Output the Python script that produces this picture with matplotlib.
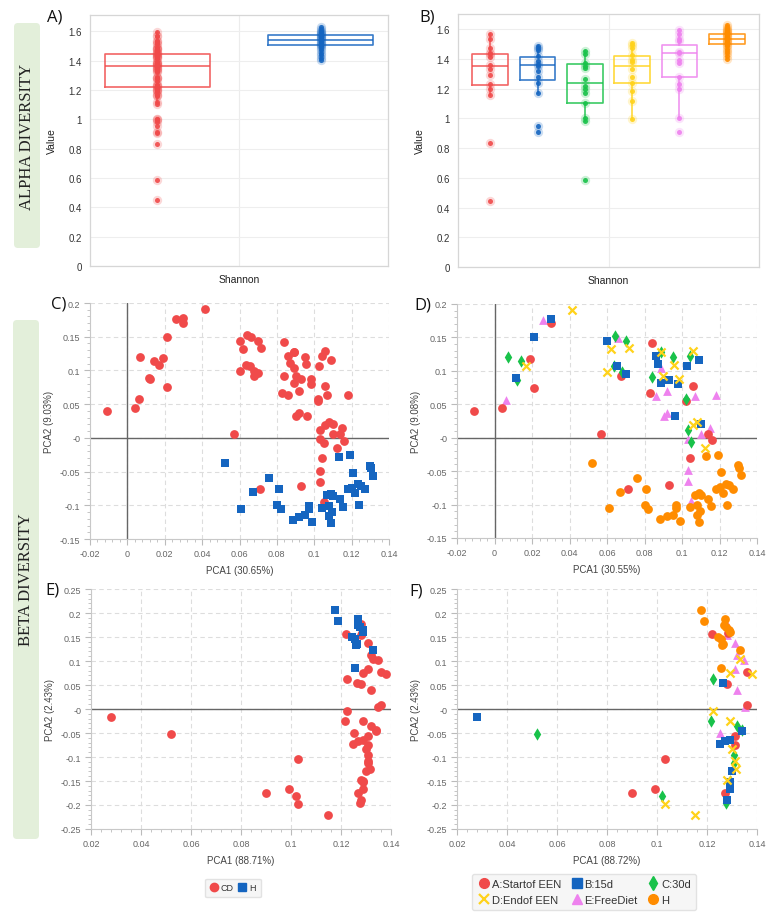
import matplotlib.pyplot as plt
from matplotlib.ticker import AutoMinorLocator
from matplotlib.patches import FancyBboxPatch
from matplotlib.lines import Line2D

# ---------------- data ----------------
group_names = ["A:Startof EEN", "B:15d", "C:30d", "D:Endof EEN", "E:FreeDiet", "H"]
group_colors = ["#F04A4A", "#1565C0", "#19C24A", "#FFD21A", "#EE82EE", "#FF8C00"]
group_markers = ["o", "s", "d", "x", "^", "o"]

# Shannon values per group (panel B)
shannon_a = [1.566, 1.537, 1.476, 1.443, 1.432, 1.416, 1.362, 1.336, 1.29, 1.23, 1.197, 1.157, 0.832, 0.447]
shannon_b = [1.488, 1.476, 1.46, 1.42, 1.387, 1.365, 1.353, 1.32, 1.282, 1.237, 1.168, 0.951, 0.906]
shannon_c = [1.454, 1.432, 1.376, 1.353, 1.342, 1.264, 1.215, 1.2, 1.168, 1.107, 1.0, 0.984, 0.584]
shannon_d = [1.51, 1.492, 1.476, 1.425, 1.39, 1.38, 1.331, 1.282, 1.237, 1.186, 1.119, 0.996]
shannon_e = [1.595, 1.566, 1.532, 1.521, 1.45, 1.438, 1.39, 1.376, 1.282, 1.23, 1.197, 1.002, 0.911]
shannon_h = [1.626, 1.615, 1.605, 1.598, 1.59, 1.582, 1.575, 1.568, 1.56, 1.552, 1.545, 1.538,
             1.53, 1.522, 1.515, 1.505, 1.497, 1.485, 1.47, 1.455, 1.44, 1.42, 1.403]
shannon_cd = shannon_a + shannon_b + shannon_c + shannon_d + shannon_e

# box stats: (q1, median, q3, whisker low, whisker high)
box_cd_h = [(1.218, 1.361, 1.445, 1.11, 1.595), (1.504, 1.541, 1.575, 1.403, 1.625)]
box_groups = [(1.226, 1.356, 1.436, 1.157, 1.566), (1.26, 1.358, 1.416, 1.168, 1.488),
              (1.105, 1.237, 1.365, 0.984, 1.454), (1.237, 1.353, 1.42, 0.996, 1.51),
              (1.282, 1.443, 1.497, 1.002, 1.595), (1.499, 1.537, 1.57, 1.403, 1.626)]

# PCA (panels C / D)
pca1_a = [(-0.011, 0.040), (0.004, 0.044), (0.019, 0.118), (0.021, 0.075), (0.030, 0.171), (0.0675, 0.092),
          (0.057, 0.006), (0.084, 0.142), (0.083, 0.067), (0.106, 0.077), (0.102, 0.055), (0.114, 0.005),
          (0.116, -0.004), (0.104, -0.030), (0.093, -0.071), (0.071, -0.076)]
pca1_b = [(0.0115, 0.089), (0.021, 0.150), (0.030, 0.178), (0.060, 0.144), (0.0655, 0.107), (0.070, 0.096),
          (0.086, 0.122), (0.087, 0.111), (0.089, 0.082), (0.093, 0.087), (0.098, 0.080), (0.1025, 0.107),
          (0.109, 0.116), (0.096, 0.033), (0.110, 0.020)]
pca1_c = [(0.007, 0.120), (0.014, 0.114), (0.012, 0.087), (0.064, 0.152), (0.070, 0.144), (0.0635, 0.108),
          (0.068, 0.099), (0.084, 0.091), (0.089, 0.128), (0.095, 0.120), (0.104, 0.122), (0.102, 0.058),
          (0.103, 0.011), (0.105, -0.007)]
pca1_d = [(0.017, 0.108), (0.0415, 0.191), (0.062, 0.132), (0.0715, 0.134), (0.060, 0.099), (0.089, 0.128),
          (0.0955, 0.109), (0.090, 0.092), (0.0985, 0.088), (0.106, 0.129), (0.108, 0.023), (0.106, 0.019),
          (0.112, -0.015)]
pca1_e = [(0.006, 0.057), (0.026, 0.176), (0.066, 0.149), (0.089, 0.104), (0.086, 0.063), (0.092, 0.070),
          (0.0905, 0.032), (0.092, 0.037), (0.107, 0.063), (0.118, 0.064), (0.115, 0.015), (0.110, 0.006),
          (0.103, -0.002), (0.103, -0.049), (0.103, -0.065), (0.105, -0.095)]
pca1_h = [(0.052, -0.038), (0.061, -0.105), (0.067, -0.081), (0.076, -0.060), (0.081, -0.076), (0.080, -0.100),
          (0.082, -0.106), (0.0885, -0.122), (0.092, -0.117), (0.095, -0.115), (0.097, -0.101), (0.097, -0.105),
          (0.099, -0.125), (0.104, -0.104), (0.107, -0.085), (0.109, -0.083), (0.110, -0.086), (0.108, -0.101),
          (0.1096, -0.110), (0.108, -0.116), (0.109, -0.126), (0.114, -0.091), (0.1155, -0.102), (0.113, -0.028),
          (0.119, -0.026), (0.121, -0.052), (0.118, -0.076), (0.120, -0.074), (0.122, -0.082), (0.1235, -0.069),
          (0.125, -0.071), (0.127, -0.076), (0.124, -0.100), (0.130, -0.041), (0.1306, -0.045), (0.1315, -0.056)]

# PCA (panels E / F)
pca2_a = [(0.122, 0.157), (0.1283, 0.159), (0.128, 0.052), (0.136, 0.078), (0.136, 0.009), (0.131, -0.057),
          (0.131, -0.076), (0.127, -0.174), (0.103, -0.104), (0.090, -0.174), (0.099, -0.167)]
pca2_b = [(0.028, -0.016), (0.1264, 0.054), (0.125, -0.072), (0.127, -0.067), (0.129, -0.064), (0.134, -0.046),
          (0.130, -0.129), (0.129, -0.153), (0.129, -0.166), (0.128, -0.189)]
pca2_c = [(0.052, -0.052), (0.102, -0.181), (0.1224, 0.062), (0.1216, -0.026), (0.132, -0.035), (0.134, -0.043),
          (0.1307, -0.095), (0.1307, -0.112), (0.129, -0.150), (0.1277, -0.195)]
pca2_d = [(0.103, -0.198), (0.115, -0.221), (0.129, 0.076), (0.138, 0.073), (0.133, 0.105), (0.1224, -0.005),
          (0.129, -0.024), (0.130, -0.084), (0.131, -0.109), (0.1317, -0.126), (0.128, -0.148)]
pca2_e = [(0.128, 0.178), (0.128, 0.154), (0.131, 0.137), (0.132, 0.112), (0.1347, 0.102), (0.131, 0.083),
          (0.132, 0.039), (0.135, 0.005), (0.1253, -0.050)]
pca2_h = [(0.1176, 0.207), (0.1187, 0.183), (0.127, 0.188), (0.1267, 0.176), (0.1277, 0.171), (0.1287, 0.164),
          (0.129, 0.161), (0.1244, 0.150), (0.1257, 0.145), (0.1263, 0.136), (0.126, 0.133), (0.133, 0.123),
          (0.1256, 0.085)]

yticks_box = [0, 0.2, 0.4, 0.6, 0.8, 1.0, 1.2, 1.4, 1.6]
ylabels_box = ["0", "0.2", "0.4", "0.6", "0.8", "1", "1.2", "1.4", "1.6"]
xticks_c = [-0.02, 0, 0.02, 0.04, 0.06, 0.08, 0.1, 0.12, 0.14]
xlabels_c = ["-0.02", "0", "0.02", "0.04", "0.06", "0.08", "0.1", "0.12", "0.14"]
yticks_c = [-0.15, -0.1, -0.05, 0, 0.05, 0.1, 0.15, 0.2]
ylabels_c = ["-0.15", "-0.1", "-0.05", "-0", "0.05", "0.1", "0.15", "0.2"]
xticks_e = [0.02, 0.04, 0.06, 0.08, 0.1, 0.12, 0.14]
xlabels_e = ["0.02", "0.04", "0.06", "0.08", "0.1", "0.12", "0.14"]
yticks_e = [-0.25, -0.2, -0.15, -0.1, -0.05, 0, 0.05, 0.1, 0.15, 0.2, 0.25]
ylabels_e = ["-0.25", "-0.2", "-0.15", "-0.1", "-0.05", "-0", "0.05", "0.1", "0.15", "0.2", "0.25"]

# ---------------- figure ----------------
plt.rcParams['font.family'] = ['Liberation Sans', 'DejaVu Sans']
W, H = 778, 920
fig = plt.figure(figsize=(W / 100, H / 100), dpi=100)


def px_axes(l, t, r, b):
    return fig.add_axes([l / W, 1 - b / H, (r - l) / W, (b - t) / H])


# background layer in pixel coordinates (green side boxes)
bg = fig.add_axes([0, 0, 1, 1], zorder=-5)
bg.set_xlim(0, W)
bg.set_ylim(H, 0)
bg.axis('off')
bg.add_patch(FancyBboxPatch((14, 24), 26, 225, boxstyle='round,pad=0,rounding_size=4',
                            fc='#E3EFDA', ec='none'))
bg.add_patch(FancyBboxPatch((13, 321), 26, 519, boxstyle='round,pad=0,rounding_size=4',
                            fc='#E3EFDA', ec='none'))
bg.text(27, 137, 'ALPHA DIVERSITY', rotation=90, ha='center', va='center',
        family='Liberation Serif', fontsize=12, color='#222222')
bg.text(26, 580, 'BETA DIVERSITY', rotation=90, ha='center', va='center',
        family='Liberation Serif', fontsize=12, color='#222222')

for lab, x, y in [("A)", 47, 18), ("B)", 419, 18), ("C)", 51, 305), ("D)", 414, 306),
                  ("E)", 45, 591), ("F)", 409, 592)]:
    bg.text(x, y, lab, ha='left', va='center', fontsize=12, family='Open Sans', color='#111111')


def style_box_axes(ax, top):
    ax.set_ylim(0, top)
    ax.set_yticks(yticks_box)
    ax.set_yticklabels(ylabels_box)
    ax.set_xticks([])
    ax.tick_params(axis='y', length=0, labelsize=7, colors='#333333', pad=6)
    ax.yaxis.grid(True, color='#eeeeee', lw=0.8)
    ax.set_axisbelow(True)
    for s in ax.spines.values():
        s.set_color('#d6d6d6')
        s.set_linewidth(0.9)
    ax.set_ylabel('Value', fontsize=7.5, color='#222222', labelpad=8)
    ax.set_xlabel('Shannon', fontsize=7.5, color='#222222', labelpad=6)


def draw_box(ax, pos, width, stats, values, color):
    q1, med, q3, lo, hi = stats
    st = [{'med': med, 'q1': q1, 'q3': q3, 'whislo': lo, 'whishi': hi, 'fliers': []}]
    ax.bxp(st, positions=[pos], widths=width, showfliers=False, showcaps=False,
           boxprops=dict(color=color, lw=1.2, alpha=0.85),
           medianprops=dict(color=color, lw=1.2, alpha=0.85),
           whiskerprops=dict(color=color, lw=1.2, alpha=0.85))
    xs = [pos] * len(values)
    ax.scatter(xs, values, s=45, color=color, alpha=0.22, lw=0, zorder=3)
    ax.scatter(xs, values, s=13, color=color, alpha=0.9, lw=0, zorder=4)


# ---- A ----
axA = px_axes(90, 16, 388, 267)
style_box_axes(axA, 1.711)
axA.set_xlim(-0.41, 1.41)
axA.axvline(0.5, color='#ececec', lw=0.8, zorder=0)
draw_box(axA, 0, 0.64, box_cd_h[0], shannon_cd, group_colors[0])
draw_box(axA, 1, 0.64, box_cd_h[1], shannon_h, group_colors[1])
axA.set_xticks([])

# ---- B ----
axB = px_axes(458, 15, 759, 268)
style_box_axes(axB, 1.703)
axB.set_xlim(-0.68, 5.68)
axB.axvline(2.5, color='#ececec', lw=0.8, zorder=0)
for i, vals in enumerate([shannon_a, shannon_b, shannon_c, shannon_d, shannon_e, shannon_h]):
    draw_box(axB, i, 0.76, box_groups[i], vals, group_colors[i])
axB.set_xticks([])


def style_scatter(ax, xt, xl, yt, yl, xlab, ylab, vline):
    ax.set_xlim(xt[0], xt[-1])
    ax.set_ylim(yt[0], yt[-1])
    ax.set_xticks(xt)
    ax.set_xticklabels(xl)
    ax.set_yticks(yt)
    ax.set_yticklabels(yl)
    ax.xaxis.set_minor_locator(AutoMinorLocator(5))
    ax.yaxis.set_minor_locator(AutoMinorLocator(5))
    ax.tick_params(which='major', length=4, color='#bbbbbb', labelsize=6.5, labelcolor='#666666', pad=3)
    ax.tick_params(which='minor', length=2.5, color='#bbbbbb')
    ax.grid(True, which='major', color='#dddddd', lw=0.8, ls=(0, (4, 3)))
    ax.set_axisbelow(True)
    for side in ['top', 'right']:
        ax.spines[side].set_visible(False)
    for side in ['left', 'bottom']:
        ax.spines[side].set_color('#c8c8c8')
    ax.axhline(0, color='#666666', lw=1.0, zorder=1)
    if vline:
        ax.axvline(0, color='#666666', lw=1.0, zorder=1)
    ax.set_xlabel(xlab, fontsize=7, color='#444444', labelpad=5)
    ax.set_ylabel(ylab, fontsize=7, color='#444444', labelpad=4)


def scatter_pts(ax, pts, color, marker, zorder=3):
    xs = [p[0] for p in pts]
    ys = [p[1] for p in pts]
    if marker == 'x':
        ax.scatter(xs, ys, s=34, color=color, marker='x', lw=1.6, zorder=zorder)
    else:
        ax.scatter(xs, ys, s=40, color=color, marker=marker, lw=0, zorder=zorder)


groups1 = [pca1_a, pca1_b, pca1_c, pca1_d, pca1_e, pca1_h]
groups2 = [pca2_a, pca2_b, pca2_c, pca2_d, pca2_e, pca2_h]
draw_order = [4, 0, 2, 1, 3, 5]

# ---- C ----
axC = px_axes(90, 304, 389, 540)
style_scatter(axC, xticks_c, xlabels_c, yticks_c, ylabels_c, 'PCA1 (30.65%)', 'PCA2 (9.03%)', True)
scatter_pts(axC, pca1_a + pca1_b + pca1_c + pca1_d + pca1_e, group_colors[0], 'o')
scatter_pts(axC, pca1_h, group_colors[1], 's', zorder=4)

# ---- D ----
axD = px_axes(457, 305, 757, 539)
style_scatter(axD, xticks_c, xlabels_c, yticks_c, ylabels_c, 'PCA1 (30.55%)', 'PCA2 (9.08%)', True)
for k, i in enumerate(draw_order):
    scatter_pts(axD, groups1[i], group_colors[i], group_markers[i], zorder=3 + k)

# ---- E ----
axE = px_axes(91, 590, 391, 830)
style_scatter(axE, xticks_e, xlabels_e, yticks_e, ylabels_e, 'PCA1 (88.71%)', 'PCA2 (2.43%)', False)
scatter_pts(axE, pca2_a + pca2_b + pca2_c + pca2_d + pca2_e, group_colors[0], 'o')
scatter_pts(axE, pca2_h, group_colors[1], 's', zorder=4)

# ---- F ----
axF = px_axes(457, 590, 757, 830)
style_scatter(axF, xticks_e, xlabels_e, yticks_e, ylabels_e, 'PCA1 (88.72%)', 'PCA2 (2.43%)', False)
for k, i in enumerate(draw_order):
    scatter_pts(axF, groups2[i], group_colors[i], group_markers[i], zorder=3 + k)


# ---- legends ----
def handle(i, color=None, marker=None, label=None, ms=7):
    c = color or group_colors[i]
    m = marker or group_markers[i]
    if m == 'x':
        return Line2D([], [], ls='none', marker='x', color=c, mew=1.6, ms=ms, label=label)
    return Line2D([], [], ls='none', marker=m, color=c, mec=c, ms=ms, label=label)


legE = fig.legend(handles=[handle(0, marker='o', label='CD', ms=6),
                           handle(1, color=group_colors[1], marker='s', label='H', ms=6)],
                  loc='center', bbox_to_anchor=(233 / W, 1 - 889 / H), ncol=2, fontsize=6.5,
                  frameon=True, fancybox=True, handletextpad=0.4, columnspacing=0.5, handlelength=0.8,
                  borderpad=0.55)
legE.get_frame().set_facecolor('#f4f4f4')
legE.get_frame().set_edgecolor('#dddddd')
for t in legE.get_texts():
    t.set_color('#333333')

order = [0, 3, 1, 4, 2, 5]
legF = fig.legend(handles=[handle(i, label=group_names[i]) for i in order],
                  loc='center', bbox_to_anchor=(584 / W, 1 - 893 / H), ncol=3, fontsize=8,
                  frameon=True, fancybox=True, handletextpad=0.1, columnspacing=0.8, handlelength=1.2,
                  borderpad=0.5, labelspacing=0.5)
legF.get_frame().set_facecolor('#f4f4f4')
legF.get_frame().set_edgecolor('#dddddd')
for t in legF.get_texts():
    t.set_color('#333333')

fig.savefig('out.png', dpi=100)
